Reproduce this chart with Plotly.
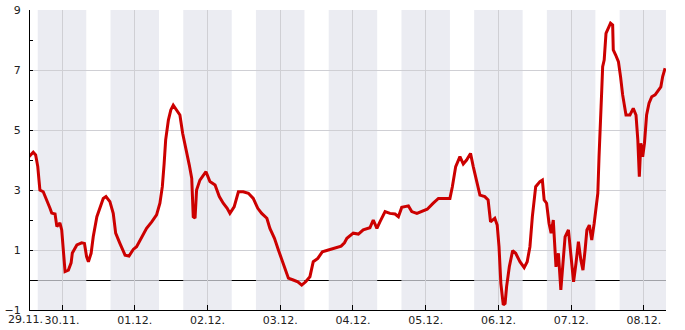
import pandas as pd
import plotly.graph_objects as go

# hours since 30.11. 00:00 and measured values
hours = [-10.9, -9.5, -8.7, -8.0, -7.6, -7.3, -6.2, -5.0, -4.0, -3.4, -2.3, -1.7, -0.7, -0.1,
         0.4, 1.0, 2.1, 3.0, 3.4, 4.9, 6.5, 7.4, 8.1, 8.7, 9.6, 10.3, 11.5, 12.5, 13.6, 14.5,
         15.8, 16.9, 17.7, 19.1, 20.8, 22.1, 23.5, 24.6, 26.3, 27.9, 29.6, 31.2, 32.3, 33.1,
         33.7, 34.2, 35.1, 35.9, 36.7, 37.8, 38.9, 39.8, 40.9, 42.0, 42.8, 43.3, 43.9, 44.4,
         45.5, 46.6, 47.5, 48.8, 50.5, 51.9, 53.2, 54.5, 55.4, 56.8, 58.2, 59.8, 61.5, 63.1,
         64.6, 65.9, 67.6, 68.6, 70.1, 71.4, 72.5, 73.6, 74.7, 76.3, 77.8, 79.1, 80.4, 81.8,
         82.9, 84.4, 85.9, 87.9, 90.1, 92.1, 93.2, 94.0, 96.1, 97.8, 99.4, 101.6, 102.7, 103.9,
         104.9, 106.6, 108.2, 109.9, 111.0, 112.1, 114.3, 115.4, 117.1, 118.7, 120.5, 122.5,
         124.2, 126.9, 128.0, 128.8, 129.9, 131.3, 132.4, 133.5, 134.8, 135.7, 136.8, 137.9,
         139.5, 140.6, 141.4, 142.8, 143.6, 144.2, 144.8, 145.6, 146.2, 146.7, 147.6, 148.7,
         149.7, 151.1, 152.5, 153.5, 154.4, 155.2, 156.3, 157.7, 158.5, 159.1, 159.9, 160.7,
         161.4, 162.1, 163.0, 163.8, 164.6, 165.2, 166.0, 167.1, 167.9, 168.8, 169.6, 170.4,
         171.2, 171.9, 172.6, 173.2, 174.0, 174.8, 175.6, 176.2, 176.8, 177.2, 177.5, 178.1,
         178.4, 178.9, 179.5, 180.3, 181.0, 181.7, 181.9, 182.7, 183.6, 184.3, 185.0, 186.1,
         187.4, 188.5, 189.4, 190.0, 190.5, 191.0, 191.6, 192.2, 192.9, 193.7, 194.6, 195.7,
         196.8, 197.6, 198.2, 199.0]
values = [4.11, 4.26, 4.17, 3.78, 3.33, 3.0, 2.94, 2.67, 2.4, 2.23, 2.2, 1.78, 1.9, 1.67,
          1.0, 0.28, 0.33, 0.57, 0.9, 1.17, 1.24, 1.22, 0.78, 0.61, 0.89, 1.44, 2.11, 2.44, 2.72, 2.78,
          2.61, 2.22, 1.56, 1.22, 0.83, 0.8, 1.02, 1.11, 1.44, 1.72, 1.94, 2.17, 2.56, 3.11,
          3.89, 4.67, 5.33, 5.67, 5.83, 5.67, 5.5, 4.89, 4.39, 3.83, 3.39, 2.11, 2.06, 3.0,
          3.33, 3.5, 3.61, 3.28, 3.17, 2.78, 2.56, 2.39, 2.22, 2.44, 2.94, 2.94, 2.89, 2.72,
          2.39, 2.22, 2.06, 1.72, 1.39, 1.0, 0.67, 0.39, 0.06, 0.0, -0.06, -0.17, -0.06, 0.11,
          0.61, 0.72, 0.94, 1.0, 1.06, 1.13, 1.24, 1.39, 1.56, 1.53, 1.67, 1.74, 2.0, 1.72,
          1.94, 2.28, 2.22, 2.2, 2.11, 2.42, 2.47, 2.28, 2.22, 2.28, 2.36, 2.56,
          2.72, 2.72, 2.72, 3.11, 3.78, 4.11, 3.87, 4.0, 4.22, 3.78, 3.28, 2.83,
          2.78, 2.67, 1.94, 2.06, 1.83, 1.11, -0.11, -0.83, -0.78, -0.22, 0.44, 0.98,
          0.89, 0.61, 0.41, 0.61, 1.11, 2.11, 3.11, 3.28, 3.33, 2.67, 2.56, 1.89,
          1.56, 2.0, 0.44, 0.89, -0.33, 0.56, 1.44, 1.67, 0.89, -0.06, 0.56, 1.28,
          0.67, 0.33, 1.0, 1.67, 1.83, 1.33, 1.89, 2.33, 2.89, 4.11, 5.11, 6.33,
          7.11, 7.33, 8.22, 8.39, 8.56, 8.5, 7.67, 7.5, 7.28, 6.78, 6.17, 5.5,
          5.5, 5.72, 5.5, 4.67, 3.44, 4.56, 4.11, 4.56, 5.5, 5.89, 6.11, 6.17,
          6.33, 6.44, 6.78, 7.06]

day_ticks = ["2023-11-30", "2023-12-01", "2023-12-02", "2023-12-03", "2023-12-04",
             "2023-12-05", "2023-12-06", "2023-12-07", "2023-12-08"]
day_labels = ["30.11.", "01.12.", "02.12.", "03.12.", "04.12.",
              "05.12.", "06.12.", "07.12.", "08.12."]
range_start = "2023-11-29 13:26"
range_end = "2023-12-08 07:18"
start_label = "29.11."
y_ticks = [-1, 1, 3, 5, 7, 9]
y_range = [-1, 9]

H, MT, MB = 330, 10, 20
plot_h = H - MT - MB
half_px = 0.5 * (y_range[1] - y_range[0]) / plot_h  # align 1px zero line to pixel row

base = pd.Timestamp("2023-11-30 00:00")
times = [base + pd.Timedelta(hours=h) for h in hours]

fig = go.Figure()
fig.add_trace(go.Scatter(x=times, y=values, mode="lines",
                         line=dict(color="#cc0000", width=3), hoverinfo="skip"))

shapes = []
# zero line (drawn first, covered by the translucent night bands)
shapes.append(dict(type="line", xref="paper", yref="y", x0=0, x1=1, y0=-half_px, y1=-half_px,
                   line=dict(color="black", width=1), layer="below"))
# night bands 16:00 - 08:00
night_starts = [pd.Timestamp("2023-11-29 16:00") + pd.Timedelta(days=i) for i in range(9)]
for s in night_starts:
    e = min(s + pd.Timedelta(hours=16), pd.Timestamp(range_end))
    shapes.append(dict(type="rect", xref="x", yref="paper", x0=s, x1=e, y0=0, y1=1,
                       fillcolor="rgba(227,228,237,0.71)", line=dict(width=0), layer="below"))

fig.update_layout(
    width=685, height=H,
    margin=dict(l=30, r=19, t=MT, b=MB),
    paper_bgcolor="white", plot_bgcolor="white",
    showlegend=False,
    shapes=shapes,
    font=dict(family="DejaVu Sans", size=11, color="#222"),
)
fig.add_annotation(text=start_label, x=range_start, xref="x", y=0, yref="paper",
                   xanchor="right", yanchor="top", xshift=14, yshift=-2, showarrow=False,
                   borderpad=0, font=dict(family="DejaVu Sans", size=11, color="#222"))
fig.update_xaxes(
    type="date", range=[range_start, range_end],
    tickmode="array", tickvals=day_ticks, ticktext=day_labels,
    tickangle=0, automargin=False,
    showgrid=True, gridcolor="#cfcfd4", gridwidth=1,
    showline=True, linecolor="black", linewidth=1,
    ticks="inside", ticklen=5, tickcolor="black",
    zeroline=False, fixedrange=True,
)
fig.update_yaxes(
    range=y_range, tickmode="array", tickvals=y_ticks, automargin=False,
    showgrid=True, gridcolor="#cfcfd4", gridwidth=1,
    showline=True, linecolor="black", linewidth=1,
    ticks="inside", ticklen=3, tickcolor="black",
    minor=dict(tickvals=[0, 2, 4, 6, 8], ticks="inside", ticklen=3, tickcolor="black", showgrid=False),
    zeroline=False, ticklabelstandoff=6,
)

fig.write_html("out.html")
